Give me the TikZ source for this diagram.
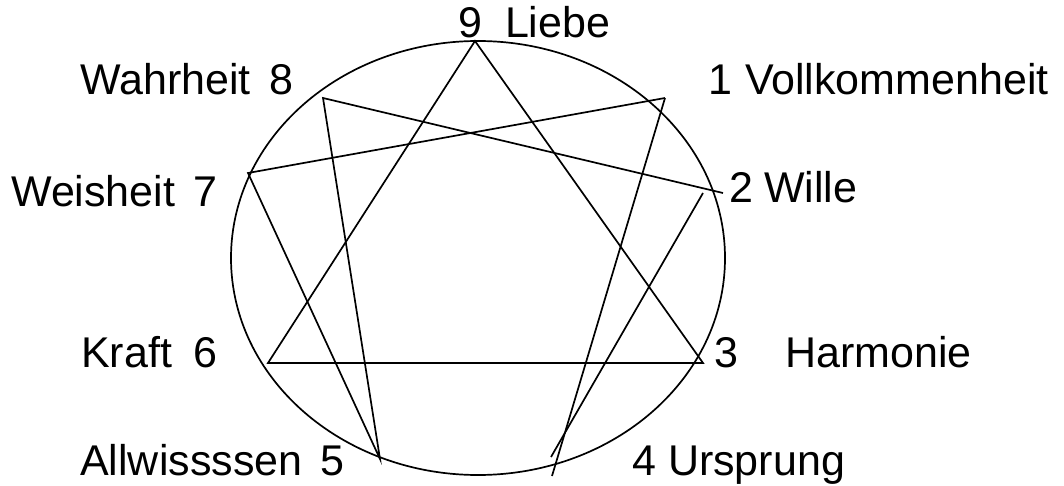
\documentclass[tikz,border=0pt]{standalone}
\usepackage{fontspec}
\setmainfont{Liberation Sans}
\usepackage{tikz}
\usetikzlibrary{calc}
\tikzset{
  lbl/.style={font=\fontsize{43}{50}\selectfont,inner sep=0pt,anchor=base west},
  chord/.style={line width=1.7pt,line join=miter},
  rim/.style={line width=1.7pt},
}

\begin{document}
\begin{tikzpicture}[x=1pt,y=-1pt]
  \useasboundingbox (0,0) rectangle (1064,486);
  % points on the circle
  \coordinate (c) at (478,258);
  \coordinate (p9) at (475,41);
  \coordinate (p1) at (665,98);
  \coordinate (p2a) at (723,193);
  \coordinate (p2b) at (703,193);
  \coordinate (p3) at (703,363);
  \coordinate (p4a) at (552,476);
  \coordinate (p4b) at (551,457);
  \coordinate (p5) at (380,459);
  \coordinate (p6) at (268,363);
  \coordinate (p7) at (248,173);
  \coordinate (p8) at (323,98);
  \draw[rim] (c) ellipse [x radius=247pt,y radius=217pt];
  % triangle
  \draw[chord] (p9) -- (p3) -- (p6) -- cycle;
  % the other figure
  \draw[chord] (p1) -- (p4a);
  \draw[chord] (p4b) -- (p2b);
  \draw[chord] (p2a) -- (p8) -- (p5) -- (p7) -- (p1);
  % labels
  \node[lbl] (l9) at (458,38) {9\hspace{23pt}Liebe};
  \node[lbl] (l1) at (708,95) {1\hspace{13pt}Vollkommenheit};
  \node[lbl] (l2) at (729,203) {2\hspace{11pt}Wille};
  \node[lbl] (l3) at (714,367) {3\hspace{47pt}Harmonie};
  \node[lbl] (l4) at (632,475) {4\hspace{12pt}Ursprung};
  \node[lbl] (l5) at (80,475) {Allwissssen\hspace{18pt}5};
  \node[lbl] (l6) at (81,367) {Kraft\hspace{21pt}6};
  \node[lbl] (l7) at (11,207) {Weisheit\hspace{18pt}7};
  \node[lbl] (l8) at (80,95) {Wahrheit\hspace{19pt}8};
\end{tikzpicture}
\end{document}
